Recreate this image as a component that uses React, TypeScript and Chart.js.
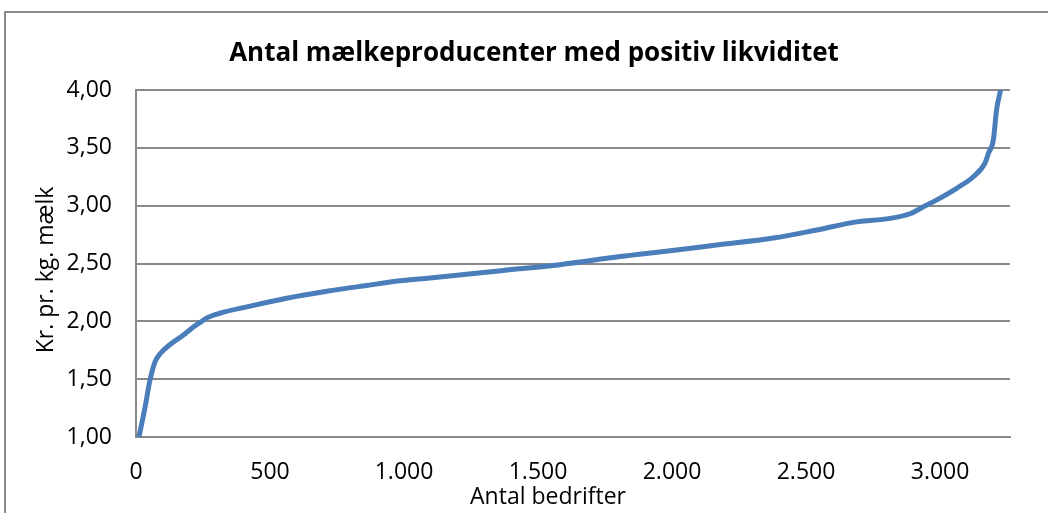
import React, { useEffect, useRef } from "react";
import { Chart, registerables } from "chart.js";

Chart.register(...registerables);

const TITLE = "Antal mælkeproducenter med positiv likviditet";
const X_TITLE = "Antal bedrifter";
const Y_TITLE = "Kr. pr. kg. mælk";

// Number of farms (x) and kr. per kg milk (y)
const farms = [
  11, 34, 52, 71, 90, 127, 176, 214, 245, 264, 313, 413, 562, 712, 861, 985, 1097,
  1371, 1582, 1806, 1993, 2167, 2378, 2540, 2689, 2813, 2888, 2938, 2988, 3062,
  3124, 3168, 3180, 3199, 3211, 3226,
];
const krPerKg = [
  1.0, 1.26, 1.49, 1.65, 1.72, 1.8, 1.88, 1.95, 2.0, 2.03, 2.07, 2.125, 2.2, 2.26,
  2.31, 2.35, 2.375, 2.44, 2.49, 2.56, 2.61, 2.66, 2.72, 2.79, 2.86, 2.89, 2.93,
  2.99, 3.05, 3.15, 3.25, 3.37, 3.45, 3.57, 3.83, 4.0,
];

const X_MIN = 0;
const X_MAX = 3261;
const X_STEP = 500;
const Y_MIN = 1;
const Y_MAX = 4;
const Y_STEP = 0.5;

const FONT = "'Open Sans', 'Noto Sans', sans-serif";

function fmtThousands(v: number): string {
  const s = Math.round(v).toString();
  return s.replace(/\B(?=(\d{3})+(?!\d))/g, ".");
}

export default function App() {
  const ref = useRef<HTMLCanvasElement | null>(null);

  useEffect(() => {
    if (!ref.current) return;
    const titlesPlugin = {
      id: "titles",
      afterDraw(chart: any) {
        const ctx = chart.ctx;
        ctx.save();
        ctx.fillStyle = "#000";
        ctx.textAlign = "center";
        ctx.textBaseline = "middle";
        ctx.font = `bold 26px ${FONT}`;
        ctx.fillText(TITLE, 534, 54);
        ctx.font = `23px ${FONT}`;
        ctx.fillText(X_TITLE, 548, 497);
        ctx.translate(46, 270);
        ctx.rotate(-Math.PI / 2);
        ctx.font = `23px ${FONT}`;
        ctx.fillText(Y_TITLE, 0, 0);
        ctx.restore();
      },
    };
    const chart = new Chart(ref.current, {
      type: "line",
      data: {
        datasets: [
          {
            data: farms.map((x, i) => ({ x, y: krPerKg[i] })),
            borderColor: "#4A7EBB",
            borderWidth: 5,
            pointRadius: 0,
            cubicInterpolationMode: "monotone",
            fill: false,
          },
        ],
      },
      options: {
        animation: false,
        responsive: false,
        layout: { padding: { left: 0, right: 38, top: 90, bottom: 0 } },
        plugins: {
          legend: { display: false },
          tooltip: { enabled: false },
          title: { display: false },
        },
        scales: {
          x: {
            type: "linear",
            min: X_MIN,
            max: X_MAX,
            afterBuildTicks(scale: any) {
              scale.ticks = [];
              for (let v = X_MIN; v <= X_MAX; v += X_STEP) scale.ticks.push({ value: v });
            },
            afterFit(scale: any) {
              scale.height = 76;
            },
            grid: { display: false, drawTicks: false },
            border: { display: true, color: "#8a8a8a", width: 2 },
            ticks: {
              color: "#000",
              padding: 22,
              maxRotation: 0,
              autoSkip: false,
              font: { family: FONT, size: 23 },
              callback: (v: any) => fmtThousands(Number(v)),
            },
          },
          y: {
            type: "linear",
            min: Y_MIN,
            max: Y_MAX,
            afterFit(scale: any) {
              scale.width = 136;
            },
            ticks: {
              stepSize: Y_STEP,
              color: "#000",
              padding: 24,
              font: { family: FONT, size: 23 },
              callback: (v: any) => Number(v).toFixed(2).replace(".", ","),
            },
            grid: { color: "#8a8a8a", lineWidth: 2, drawTicks: false },
            border: { display: true, color: "#8a8a8a", width: 2 },
            title: { display: false },
          },
        },
      },
      plugins: [titlesPlugin],
    } as any);
    return () => chart.destroy();
  }, []);

  return (
    <div
      style={{
        position: "fixed",
        left: 0,
        top: 0,
        width: 1048,
        height: 513,
        background: "#fff",
        overflow: "hidden",
      }}
    >
      <div
        style={{
          position: "absolute",
          left: 4,
          top: 11,
          width: 1200,
          height: 700,
          borderTop: "2px solid #8a8a8a",
          borderLeft: "2px solid #8a8a8a",
        }}
      />
      <canvas
        ref={ref}
        width={1048}
        height={513}
        style={{ position: "absolute", left: 0, top: 0, width: 1048, height: 513 }}
      />
    </div>
  );
}
